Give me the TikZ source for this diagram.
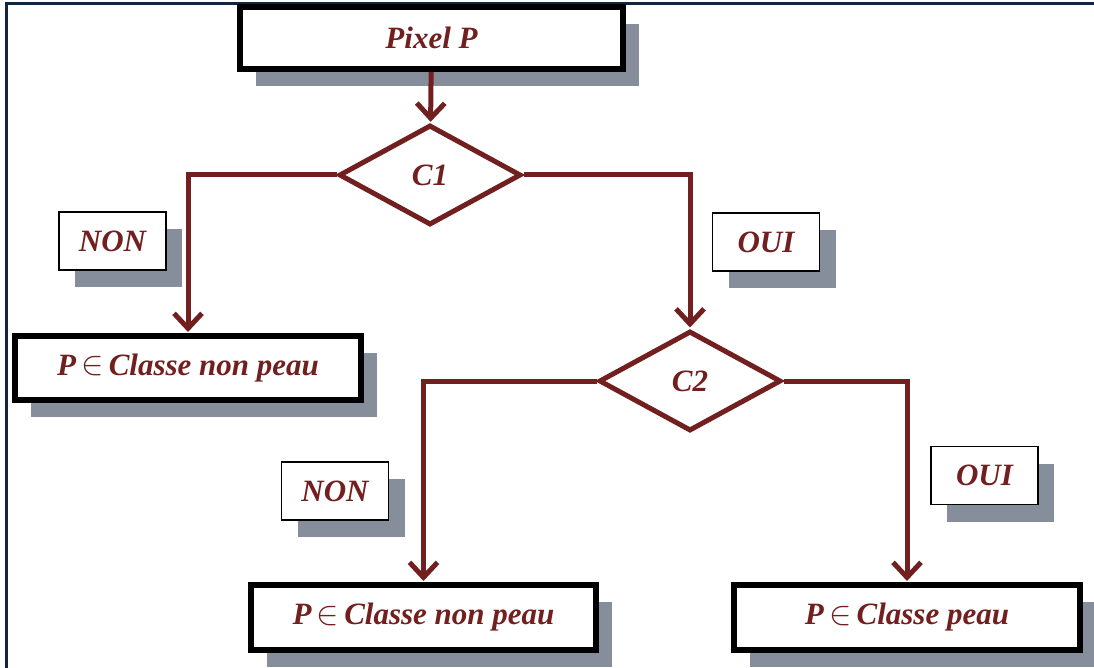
\documentclass[tikz,border=0pt]{standalone}
\usepackage{fontspec}
\setmainfont{Liberation Serif}
\usetikzlibrary{shapes.geometric, shadows, arrows.meta, positioning}
\definecolor{darkred}{RGB}{114,32,31}
\definecolor{shadowgray}{RGB}{133,142,154}
\definecolor{framenavy}{RGB}{16,37,62}

\begin{document}
\begin{tikzpicture}[x=1pt, y=-1pt, font=\fontsize{31}{36}\selectfont\bfseries\itshape,
    >={Straight Barb[length=15pt, width=28pt]}]
    \tikzstyle{result}=[rectangle, draw=black, line width=6pt, fill=white, text=darkred, inner sep=0pt,
        minimum height=64pt, drop shadow={shadow xshift=16pt, shadow yshift=-17pt, fill=shadowgray, opacity=1}]
    \tikzstyle{test}=[diamond, draw=darkred, line width=5pt, fill=white, text=darkred, inner sep=0pt,
        minimum width=182pt, minimum height=100pt]
    \tikzstyle{answer}=[rectangle, draw=black, line width=1.5pt, fill=white, text=darkred, inner sep=0pt,
        minimum width=107pt, minimum height=58pt, drop shadow={shadow xshift=16pt, shadow yshift=-17pt, fill=shadowgray, opacity=1}]
    \tikzstyle{flow}=[->, draw=darkred, line width=5pt, shorten >=1pt]
    \newcommand{\elem}{\,\raisebox{0.5pt}{\scalebox{1.35}{$\in$}}\,}

    \useasboundingbox (0,0) rectangle (1094,668);
    % frame
    \draw[framenavy, line width=3.5pt] (6.3,668) -- (6.3,3.3) -- (1094,3.3);

    \node[result, minimum width=383pt, minimum height=62pt] (pix)       at (431.5,38)  {Pixel P};
    \node[test]                                             (c1)        at (430,175)   {C1};
    \node[result, minimum width=346pt]                      (nonpeau1)  at (188,368)   {P\elem Classe non peau};
    \node[test]                                             (c2)        at (690,381)   {C2};
    \node[result, minimum width=345pt, minimum height=65pt] (nonpeau2)  at (423.5,617.5) {P\elem Classe non peau};
    \node[result, minimum width=346pt, minimum height=65pt] (peau)      at (907,617.5) {P\elem Classe peau};

    \node[answer] (non1) at (112.5,241) {NON};
    \node[answer] (oui1) at (766,242)   {OUI};
    \node[answer] (non2) at (335,491)   {NON};
    \node[answer] (oui2) at (984.5,475.5) {OUI};

    \draw[flow] (pix) -- (c1);
    \draw[flow] (c1.west) -| (nonpeau1.north);
    \draw[flow] (c1.east) -| (c2.north);
    \draw[flow] (c2.west) -| (nonpeau2.north);
    \draw[flow] (c2.east) -| (peau.north);
\end{tikzpicture}
\end{document}
